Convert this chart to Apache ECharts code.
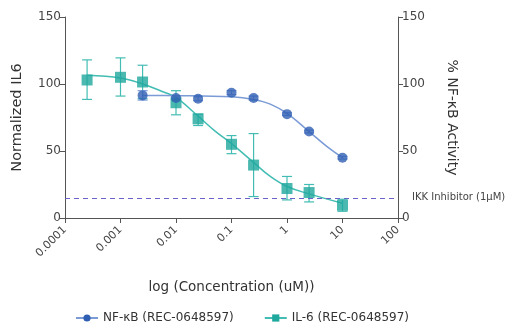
<!DOCTYPE html>
<html><head><meta charset="utf-8">
<script src="https://cdn.jsdelivr.net/npm/echarts@6/dist/echarts.min.js"></script>
<style>html,body{margin:0;padding:0;background:#fff}#c{width:515px;height:330px}</style>
</head><body><div id="c"></div>
<script>
const xTicks = [0.0001, 0.001, 0.01, 0.1, 1, 10, 100];
const yTicks = [0, 50, 100, 150];
const il6Conc = [0.00025, 0.001, 0.0025, 0.01, 0.025, 0.1, 0.25, 1, 2.5, 10];
const il6Mean = [103, 105, 101.5, 86, 74, 55, 39.5, 22, 19, 9.5];
const il6Low  = [88.5, 91, 89, 77, 69, 48, 16, 13.5, 12, 5];
const il6High = [118, 119.5, 114, 95, 77.5, 61.5, 63, 31, 25, 14];
const il6FitX = [0.00025, 0.001, 0.0025, 0.006, 0.01, 0.025, 0.05, 0.1, 0.25, 0.5, 1, 2.5, 10];
const il6FitY = [106.5, 104.5, 100, 94, 90, 76, 65, 55.5, 41.5, 31, 23.5, 18, 11];
const nfConc = [0.0025, 0.01, 0.025, 0.1, 0.25, 1, 2.5, 10];
const nfMean = [91.5, 89.5, 89, 93.5, 89.5, 77.5, 64.5, 45];
const nfLow  = [88, 88, 87.5, 92, 88, 76.5, 63.5, 44];
const nfHigh = [95, 91, 90.5, 95, 91, 78.5, 65.5, 46];
const nfFitX = [0.0025, 0.01, 0.03, 0.1, 0.25, 0.5, 1, 2.5, 5, 10];
const nfFitY = [91.5, 91.3, 91, 90.5, 88.5, 85, 78, 64.5, 54, 45];
const ikkLevel = 15;

const blue = '#2f5fb3', blueLine = '#7b9bd6';
const teal = '#1fa89d', tealLine = '#43bdb3';
const axisCol = '#555';
const font = 'DejaVu Sans';

function errSeries(xs, lo, hi, color, yIdx){
  return {
    type:'custom', yAxisIndex:yIdx, silent:true, z:2,
    data: xs.map((x,i)=>[x, lo[i], hi[i]]),
    renderItem:(params, api)=>{
      const top = api.coord([api.value(0), api.value(2)]);
      const bot = api.coord([api.value(0), api.value(1)]);
      const w = 5;
      const st = {stroke:color, lineWidth:1.2};
      return {type:'group', children:[
        {type:'line', shape:{x1:top[0],y1:top[1],x2:bot[0],y2:bot[1]}, style:st},
        {type:'line', shape:{x1:top[0]-w,y1:top[1],x2:top[0]+w,y2:top[1]}, style:st},
        {type:'line', shape:{x1:bot[0]-w,y1:bot[1],x2:bot[0]+w,y2:bot[1]}, style:st}
      ]};
    }
  };
}

const chart = echarts.init(document.getElementById('c'));
chart.setOption({
  animation:false,
  textStyle:{fontFamily:font},
  grid:{left:65, right:117, top:17, bottom:112},
  legend:{
    bottom:1, left:70, itemGap:30, itemWidth:22, itemHeight:9,
    textStyle:{fontSize:12, color:'#333', fontFamily:font},
    data:['NF-κB (REC-0648597)','IL-6 (REC-0648597)']
  },
  xAxis:{
    type:'log', logBase:10, min:0.0001, max:100,
    name:'log (Concentration (uM))', nameLocation:'middle', nameGap:62,
    nameTextStyle:{fontSize:13.5, color:'#333', fontFamily:font},
    axisLine:{lineStyle:{color:axisCol}},
    axisTick:{lineStyle:{color:axisCol}, length:5},
    minorTick:{show:false},
    splitLine:{show:false},
    axisLabel:{rotate:45, fontSize:11, color:'#444', margin:10,
      formatter:v=>{ const m = xTicks.find(t=>Math.abs(Math.log10(t)-Math.log10(v))<1e-6); return m!==undefined? String(m):''; }}
  },
  yAxis:[{
    type:'value', min:0, max:150, interval:50,
    name:'Normalized IL6', nameLocation:'middle', nameGap:40,
    nameTextStyle:{fontSize:14.5, color:'#333', fontFamily:font},
    axisLine:{show:true, lineStyle:{color:axisCol}},
    axisTick:{show:true, lineStyle:{color:axisCol}, length:5},
    splitLine:{show:false},
    axisLabel:{fontSize:12, color:'#444', margin:4, formatter:v=>yTicks.includes(v)?String(v):''}
  },{
    type:'value', min:0, max:150, interval:50, position:'right',
    name:'% NF-κB Activity', nameLocation:'middle', nameGap:47, nameRotate:-90,
    nameTextStyle:{fontSize:14, color:'#333', fontFamily:font},
    axisLine:{show:true, lineStyle:{color:axisCol}},
    axisTick:{show:true, lineStyle:{color:axisCol}, length:5},
    splitLine:{show:false},
    axisLabel:{fontSize:12, color:'#444', margin:4, formatter:v=>yTicks.includes(v)?String(v):''}
  }],
  series:[
    {
      name:'IKK', type:'line', data:[], silent:true,
      markLine:{symbol:'none', silent:true,
        lineStyle:{color:'#6b63c9', type:[5,4], width:1.2},
        label:{show:true, position:'end', formatter:'IKK Inhibitor (1µM)', fontSize:10, color:'#444', distance:14, fontFamily:font},
        data:[{yAxis:ikkLevel}]}
    },
    {
      name:'IL-6 (REC-0648597)', type:'line', smooth:0.4, showSymbol:false,
      symbol:'rect', symbolSize:9, itemStyle:{color:teal},
      lineStyle:{color:tealLine, width:1.5}, z:1,
      data: il6FitX.map((x,i)=>[x, il6FitY[i]])
    },
    {
      name:'NF-κB (REC-0648597)', type:'line', smooth:0.4, showSymbol:false, yAxisIndex:1,
      symbol:'circle', symbolSize:9, itemStyle:{color:blue},
      lineStyle:{color:blueLine, width:1.5}, z:1,
      data: nfFitX.map((x,i)=>[x, nfFitY[i]])
    },
    errSeries(il6Conc, il6Low, il6High, tealLine, 0),
    errSeries(nfConc, nfLow, nfHigh, blueLine, 1),
    {
      type:'scatter', symbol:'rect', symbolSize:11, z:3,
      itemStyle:{color:teal},
      data: il6Conc.map((x,i)=>[x, il6Mean[i]])
    },
    {
      type:'scatter', symbol:'circle', symbolSize:10, yAxisIndex:1, z:3,
      itemStyle:{color:blue},
      data: nfConc.map((x,i)=>[x, nfMean[i]])
    }
  ]
});
</script></body></html>
